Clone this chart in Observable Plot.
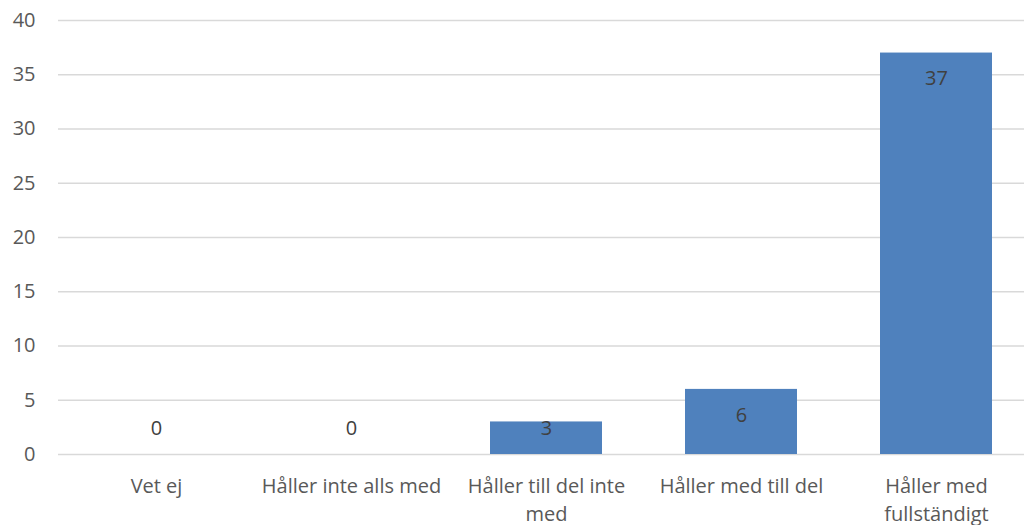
<!DOCTYPE html>
<html><head><meta charset="utf-8">
<script src="https://cdn.jsdelivr.net/npm/d3@7"></script>
<script src="https://cdn.jsdelivr.net/npm/@observablehq/plot@0.6"></script>
<style>body{margin:0;background:#fff;overflow:hidden}svg{display:block;overflow:visible}</style>
</head><body><div id="chart"></div>
<script>
const categories = ["Vet ej", "Håller inte alls med", "Håller till del inte med", "Håller med till del", "Håller med fullständigt"];
const tickLabels = ["Vet ej", "Håller inte alls med", "Håller till del inte\nmed", "Håller med till del", "Håller med\nfullständigt"];
const values = [0, 0, 3, 6, 37];
const yTicks = [0, 5, 10, 15, 20, 25, 30, 35, 40];

const data = categories.map((c, i) => ({category: c, value: values[i]}));
const labelMap = new Map(categories.map((c, i) => [c, tickLabels[i]]));

const chart = Plot.plot({
  width: 1024,
  height: 525,
  marginLeft: 58,
  marginRight: 0,
  marginTop: 20,
  marginBottom: 71,
  style: {fontFamily: "'Open Sans', sans-serif", fontSize: "20px", color: "#595959", background: "#fff", overflow: "visible"},
  x: {domain: categories, range: [58, 1033], paddingInner: 0.426, paddingOuter: 0.213, label: null},
  y: {domain: [0, 40], label: null},
  marks: [
    Plot.ruleY(yTicks, {stroke: "#d9d9d9", strokeWidth: 1.5}),
    Plot.barY(data, {x: "category", y: "value", fill: "#4f81bd"}),
    Plot.text(data, {x: "category", y: d => Math.max(d.value, 4.8), text: d => String(d.value), dy: 26, fill: "#404040", fontSize: 20}),
    Plot.axisY({ticks: yTicks, tickSize: 0, tickPadding: 23, fontSize: 20, fill: "#595959"}),
    Plot.axisX({tickSize: 0, tickPadding: 19, fontSize: 20, fill: "#595959", lineHeight: 1.4, tickFormat: d => labelMap.get(d)})
  ]
});
document.getElementById("chart").appendChild(chart);
</script></body></html>
